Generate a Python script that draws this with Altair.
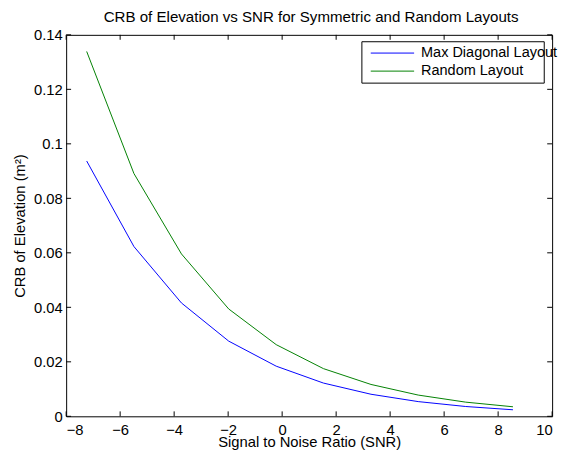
import altair as alt
import pandas as pd

# ---- data ----
snr = [-7.24, -5.49, -3.73, -1.98, -0.22, 1.53, 3.29, 5.04, 6.80, 8.55]
crb_max_diag = [0.0937, 0.0623, 0.0416, 0.0276, 0.0184, 0.0122, 0.0081, 0.0054, 0.0036, 0.0024]
crb_random = [0.1339, 0.0891, 0.0596, 0.0394, 0.0263, 0.0175, 0.0117, 0.0078, 0.0052, 0.0035]
series_names = ["Max Diagonal Layout", "Random Layout"]
series_colors = ["#0000ff", "#008000"]
x_ticks = [-8, -6, -4, -2, 0, 2, 4, 6, 8, 10]
y_ticks = [0, 0.02, 0.04, 0.06, 0.08, 0.1, 0.12, 0.14]

title_text = "CRB of Elevation vs SNR for Symmetric and Random Layouts"
x_title = "Signal to Noise Ratio (SNR)"
y_title = "CRB of Elevation (m²)"

FONT = "Liberation Sans, Arial, Helvetica, sans-serif"
W, H = 493, 387
FS = 15
FS_TITLE = 15.3
FS_LEG = 14.7

rows = []
for name, vals in zip(series_names, [crb_max_diag, crb_random]):
    for xv, yv in zip(snr, vals):
        rows.append({"snr": xv, "crb": yv, "series": name})
df = pd.DataFrame(rows)

xscale = alt.Scale(domain=[-8, 10], nice=False, zero=False)
yscale = alt.Scale(domain=[0, 0.14], nice=False, zero=False)
cscale = alt.Scale(domain=series_names, range=series_colors)

lines = alt.Chart(df).mark_line(strokeWidth=1, clip=True).encode(
    x=alt.X("snr:Q", scale=xscale, title=x_title,
            axis=alt.Axis(values=x_ticks, ticks=False, tickSize=0, domain=False, grid=False,
                          labelFontSize=FS, titleFontSize=FS,
                          labelBaseline="alphabetic", labelPadding=18.5,
                          titleBaseline="alphabetic", titleX=W / 2, titleY=31,
                          titleFontWeight="normal",
                          labelFont=FONT, titleFont=FONT, labelColor="black", titleColor="black")),
    y=alt.Y("crb:Q", scale=yscale, title=y_title,
            axis=alt.Axis(values=y_ticks, ticks=False, tickSize=0, domain=False, grid=False,
                          labelFontSize=FS, titleFontSize=FS, labelPadding=4,
                          titleBaseline="alphabetic", titleX=-42, titleY=H / 2,
                          titleFontWeight="normal",
                          labelFont=FONT, titleFont=FONT, labelColor="black", titleColor="black",
                          labelExpr="datum.value == 0 ? '0' : format(datum.value, '.2~f')")),
    color=alt.Color("series:N", scale=cscale, legend=None),
    detail="series:N",
)

xt = pd.DataFrame({"snr": x_ticks})
yt = pd.DataFrame({"crb": y_ticks})
TL = 5
xt_bottom = alt.Chart(xt).mark_rule(color="black", strokeWidth=1).encode(
    x=alt.X("snr:Q", scale=xscale), y=alt.value(H), y2=alt.value(H - TL))
xt_top = alt.Chart(xt).mark_rule(color="black", strokeWidth=1).encode(
    x=alt.X("snr:Q", scale=xscale), y=alt.value(0), y2=alt.value(TL))
yt_left = alt.Chart(yt).mark_rule(color="black", strokeWidth=1).encode(
    y=alt.Y("crb:Q", scale=yscale), x=alt.value(0), x2=alt.value(TL))
yt_right = alt.Chart(yt).mark_rule(color="black", strokeWidth=1).encode(
    y=alt.Y("crb:Q", scale=yscale), x=alt.value(W), x2=alt.value(W - TL))

# title as a text mark above the plot (MATLAB style)
title_mark = alt.Chart(pd.DataFrame({"t": [title_text]})).mark_text(
    align="center", baseline="alphabetic", font=FONT, fontSize=FS_TITLE, color="black").encode(
    x=alt.value(W / 2 + 2), y=alt.value(-12.7), text="t:N")

# manual legend (MATLAB style box)
leg = pd.DataFrame({"series": series_names, "row": [0, 1]})
box = alt.Chart(pd.DataFrame({"k": [0]})).mark_rect(
    fill="white", stroke="black", strokeWidth=1).encode(
    x=alt.value(300), x2=alt.value(485), y=alt.value(7), y2=alt.value(49))
leg_base = alt.Chart(leg).transform_calculate(ly="18.5 + 18.3 * datum.row")
leg_lines = leg_base.mark_rule(strokeWidth=1).encode(
    x=alt.value(309), x2=alt.value(353),
    y=alt.Y("ly:Q", scale=None),
    color=alt.Color("series:N", scale=cscale, legend=None))
leg_text = leg_base.mark_text(align="left", baseline="middle", font=FONT,
                              fontSize=FS_LEG, color="black").encode(
    x=alt.value(360), y=alt.Y("ly:Q", scale=None), text="series:N")

chart = alt.layer(lines, xt_bottom, xt_top, yt_left, yt_right, title_mark,
                  box, leg_lines, leg_text).properties(
    width=W, height=H,
    background="white",
    autosize=alt.AutoSizeParams(type="none"),
    padding={"left": 59, "top": 24, "right": 9, "bottom": 35},
).configure_view(stroke="black", strokeWidth=1)

chart.save("out.html", embed_options={"renderer": "svg", "actions": False})
